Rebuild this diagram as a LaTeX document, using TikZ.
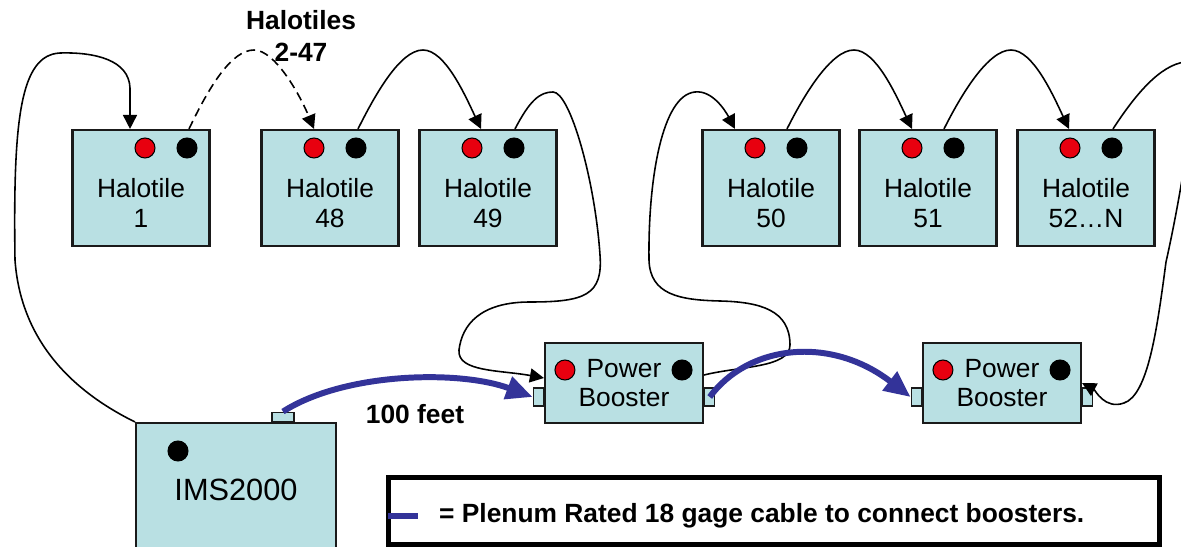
\documentclass[tikz,border=0pt]{standalone}
\usepackage{fontspec, xcolor, tikz}
\usetikzlibrary{arrows.meta, positioning}
\setmainfont{Liberation Sans}
\definecolor{tilecyan}{HTML}{B9E0E3}
\definecolor{ledred}{HTML}{E8000F}
\definecolor{cableblue}{HTML}{333399}
\definecolor{edgegray}{HTML}{1A1A1A}

\begin{document}
\begin{tikzpicture}[
    x=0.02cm, y=-0.02cm,
    font=\fontsize{15}{17}\selectfont,
    tilebox/.style={rectangle, draw=edgegray, line width=1.2pt, fill=tilecyan,
                    minimum width=2.74cm, minimum height=2.32cm},
    boosterbox/.style={tilebox, align=center, inner sep=0pt,
                       minimum width=3.16cm, minimum height=1.6cm},
    portbox/.style={rectangle, draw=edgegray, line width=0.8pt, fill=tilecyan,
                    inner sep=0pt, minimum width=0.2cm, minimum height=0.36cm},
    redled/.style={circle, draw=black, line width=0.6pt, fill=ledred,
                   inner sep=0pt, minimum size=0.4cm},
    blackled/.style={redled, fill=black},
    wire/.style={-{Triangle[length=8pt, width=8pt]}, line width=0.9pt},
    cable/.style={-{Triangle[length=15pt, width=13pt]}, line width=3.4pt, draw=cableblue},
    boldtag/.style={font=\fontsize{15}{18}\selectfont\bfseries, align=center}
  ]
    % Page frame; the loop on the right and the IMS2000 run out of it
    \useasboundingbox (0,0) rectangle (1181,547);
    \clip (0,0) rectangle (1181,547);

    % Top row of halotiles
    \foreach \nm/\cx/\num/\dx in {h1/141/1/4, h48/330/48/-16, h49/488/49/-16,
                                  h50/771/50/-16, h51/928/51/-16, h52/1086/52…N/-16} {
      \node[tilebox] (\nm) at (\cx,188) {};
      \node[align=center] (\nm-txt) at (\cx,203) {Halotile\\\num};
      \node[redled] (\nm-r) at (\cx+\dx,148) {};
      \node[blackled] (\nm-b) at (\cx+\dx+42,148) {};
    }

    % Power boosters with their side ports
    \node[boosterbox] (pb1) at (624,383) {Power\\Booster};
    \node[boosterbox] (pb2) at (1002,383) {Power\\Booster};
    \node[portbox, anchor=east] (pb1in) at ([yshift=-0.28cm]pb1.west) {};
    \node[portbox, anchor=west] (pb1out) at ([yshift=-0.28cm]pb1.east) {};
    \node[portbox, anchor=east] (pb2in) at ([yshift=-0.28cm]pb2.west) {};
    \node[portbox, anchor=west] (pb2out) at ([yshift=-0.28cm]pb2.east) {};
    \node[redled] (pb1-r) at ([xshift=0.42cm, yshift=0.26cm]pb1.west) {};
    \node[blackled] (pb1-b) at ([xshift=-0.44cm, yshift=0.26cm]pb1.east) {};
    \node[redled] (pb2-r) at ([xshift=0.42cm, yshift=0.26cm]pb2.west) {};
    \node[blackled] (pb2-b) at ([xshift=-0.44cm, yshift=0.26cm]pb2.east) {};

    % Controller, cut by the bottom edge
    \node[tilebox, minimum width=4cm, minimum height=2.68cm,
          font=\fontsize{17.5}{20}\selectfont] (ims) at (236,490) {IMS2000};
    \node[blackled] (ims-b) at (178,451) {};
    \node[portbox, anchor=south, minimum width=0.44cm, minimum height=0.18cm]
      (imsport) at ([xshift=0.94cm]ims.north) {};

    % Legend
    \node[rectangle, draw=black, line width=2.6pt, minimum width=15.42cm,
          minimum height=1.35cm] (legend) at (774,511) {};
    \node[boldtag, anchor=west] (legend-txt) at (433,516)
      {= Plenum Rated 18 gage cable to connect boosters.};
    \draw[cableblue, line width=3.4pt] ([xshift=0.04cm, yshift=-0.1cm]legend.west) -- ++(30,0);

    % Free labels
    \node[boldtag] (hop-tag) at (301,36) {Halotiles\\2-47};
    \node[boldtag] (feet-tag) at (415,414) {100 feet};

    % Data wires between the tiles
    \draw[wire] (ims.north west) .. controls (60,385) and (20,330) .. (15,260)
      .. controls (13,120) and (20,55) .. (60,53)
      .. controls (95,52) and (129,60) .. (130,88) -- ([xshift=-0.22cm]h1.north);
    \draw[wire, dash pattern=on 5pt off 3pt] ([xshift=0.96cm]h1.north)
      .. controls (210,85) and (232,50) .. (254,50)
      .. controls (275,50) and (300,95) .. ([xshift=-0.32cm]h48.north);
    \draw[wire] ([xshift=0.56cm]h48.north) .. controls (375,95) and (400,50) .. (423,50)
      .. controls (445,50) and (465,95) .. ([xshift=-0.14cm]h49.north);
    \draw[wire] ([xshift=0.54cm]h49.north) .. controls (530,100) and (540,92) .. (553,92)
      .. controls (570,92) and (595,180) .. (600,255)
      .. controls (603,295) and (585,302) .. (530,302)
      .. controls (480,302) and (462,325) .. (459,350)
      .. controls (457,372) and (500,370) .. ([yshift=0.1cm]pb1.west);
    \draw[wire] ([yshift=0.16cm]pb1.east) .. controls (740,366) and (790,368) .. (790,345)
      .. controls (790,310) and (760,302) .. (720,301)
      .. controls (680,300) and (650,295) .. (649,260)
      .. controls (648,180) and (662,95) .. (695,92)
      .. controls (712,90) and (725,110) .. ([xshift=-0.72cm]h50.north);
    \draw[wire] ([xshift=0.32cm]h50.north) .. controls (804,95) and (831,50) .. (854,50)
      .. controls (876,50) and (896,95) .. ([xshift=-0.32cm]h51.north);
    \draw[wire] ([xshift=0.32cm]h51.north) .. controls (961,95) and (988,50) .. (1011,50)
      .. controls (1033,50) and (1053,95) .. ([xshift=-0.34cm]h52.north);
    \draw[wire] ([xshift=0.54cm]h52.north) .. controls (1135,95) and (1160,65) .. (1185,62)
      .. controls (1205,60) and (1180,200) .. (1166,262)
      .. controls (1157,330) and (1148,395) .. (1124,403)
      .. controls (1105,410) and (1095,390) .. (pb2.east);

    % Plenum cable between controller and boosters
    \draw[cable] (imsport.north) .. controls (345,372) and (460,370) .. (pb1in.west);
    \draw[cable] (pb1out.center) .. controls (748,345) and (830,335) .. (pb2in.west);
  \end{tikzpicture}
\end{document}
